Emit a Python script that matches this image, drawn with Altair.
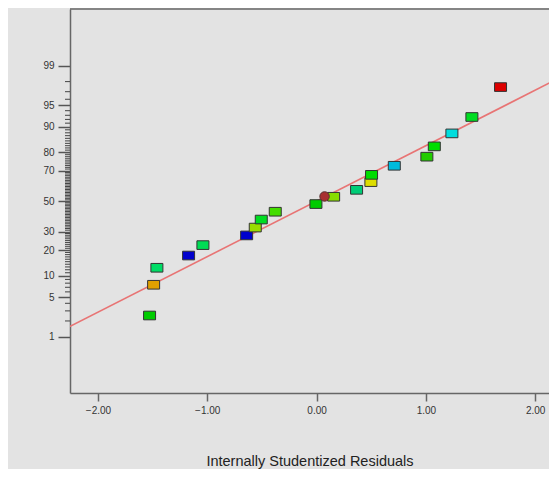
import altair as alt
import pandas as pd
from statistics import NormalDist

# --- data ---
res_x = [-1.528, -1.491, -1.461, -1.171, -1.040, -0.640, -0.561, -0.506, -0.378, -0.006,
         0.156, 0.366, 0.497, 0.503, 0.711, 1.009, 1.077, 1.238, 1.421, 1.683]
prob = [2.5, 7.6, 12.7, 17.6, 22.6, 27.9, 32.6, 37.7, 42.9, 48.1,
        53.1, 57.8, 62.9, 67.5, 72.9, 77.8, 82.7, 87.8, 92.6, 97.5]
colors = ["#00cc00", "#e0a000", "#00dd66", "#0000cc", "#00dd55", "#0000cc", "#99dd00",
          "#00dd22", "#44dd00", "#00cc00", "#88dd00", "#00cc77", "#dddd00", "#00dd00",
          "#00bbdd", "#22cc00", "#00dd00", "#00dddd", "#00dd22", "#dd0000"]

circle_x = [0.073]
circle_p = [53.3]

line_x = [-2.26, 2.20]
line_p = [1.58, 98.2]

major_ticks = [1, 5, 10, 20, 30, 50, 70, 80, 90, 95, 99]
minor_ticks = [i for i in range(2, 99) if i not in major_ticks]
x_ticks = [-2, -1, 0, 1, 2]

nd = NormalDist()
def probit(p):
    return nd.inv_cdf(p / 100.0)

pts = pd.DataFrame({"x": res_x, "z": [probit(p) for p in prob], "col": colors})
circ = pd.DataFrame({"x": circle_x, "z": [probit(p) for p in circle_p]})
ln = pd.DataFrame({"x": line_x, "z": [probit(p) for p in line_p]})
minor = pd.DataFrame({"z": [probit(p) for p in minor_ticks]})

W, H = 479, 384
xs = alt.Scale(domain=[-2.256, -2.256 + W / 109.3], nice=False, zero=False)
ys = alt.Scale(domain=[-3.29, 3.30], nice=False, zero=False)
XT = "Internally Studentized Residuals"

x_axis = alt.Axis(values=x_ticks, format=".2f", grid=False, tickSize=8, tickWidth=1.5,
                  tickColor="#666", domainColor="#666", domainWidth=1.5,
                  labelFont="Liberation Sans", labelFontSize=10, labelColor="#333",
                  labelPadding=4, labelOverlap=False, title=XT, titleFont="Liberation Sans",
                  titleFontSize=14.5, titleFontWeight="normal", titleColor="#222",
                  titleY=68, titleBaseline="middle")
y_axis = alt.Axis(values=[probit(p) for p in major_ticks],
                  labelExpr="format(round(cumulativeNormal(datum.value)*100), 'd')",
                  grid=False, tickSize=12, tickWidth=1.5, tickColor="#555",
                  domainColor="#666", domainWidth=1.5, labelOverlap=False,
                  labelFont="Liberation Sans", labelFontSize=10, labelColor="#333",
                  labelPadding=4, title=None)

line = alt.Chart(ln).mark_line(color="#e87474", strokeWidth=1.6, clip=True).encode(
    x=alt.X("x:Q", scale=xs, axis=x_axis),
    y=alt.Y("z:Q", scale=ys, axis=y_axis),
)

minor_rules = alt.Chart(minor).mark_rule(color="#444", strokeWidth=1).encode(
    y=alt.Y("z:Q", scale=ys, axis=y_axis),
    x=alt.value(-5),
    x2=alt.value(0),
)

top_border = alt.Chart(pd.DataFrame({"a": [0]})).mark_rule(color="#666", strokeWidth=1.5).encode(
    y=alt.value(0), x=alt.value(0), x2=alt.value(W)
)

squares = alt.Chart(pts).mark_point(
    shape="M-1,-0.72L1,-0.72L1,0.72L-1,0.72Z", size=144, filled=True, opacity=1,
    stroke="#333", strokeWidth=1
).encode(
    x=alt.X("x:Q", scale=xs, axis=x_axis),
    y=alt.Y("z:Q", scale=ys, axis=y_axis),
    fill=alt.Fill("col:N", scale=None),
)

circle = alt.Chart(circ).mark_point(shape="circle", size=90, filled=True, opacity=1,
                                    fill="#a83030", stroke="#553030", strokeWidth=1).encode(
    x=alt.X("x:Q", scale=xs, axis=x_axis),
    y=alt.Y("z:Q", scale=ys, axis=y_axis),
)

chart = alt.layer(line, minor_rules, top_border, squares, circle).properties(
    width=W, height=H,
    autosize=alt.AutoSizeParams(type="none"),
    padding={"left": 62, "top": 1, "right": 0, "bottom": 76},
    background="#e3e3e3",
).configure_view(stroke=None).configure_axis(labelOverlap=False)

chart.save("out.html", embed_options={"renderer": "svg", "actions": False})
